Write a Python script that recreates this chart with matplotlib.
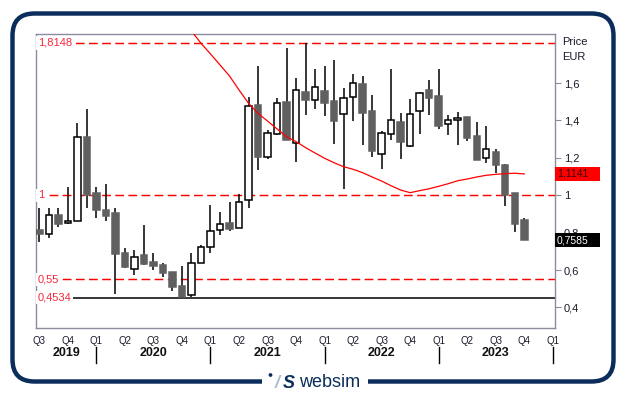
import numpy as np
import matplotlib
matplotlib.use("Agg")
import matplotlib.pyplot as plt
import matplotlib.transforms as mtransforms
from matplotlib.patches import FancyBboxPatch, Rectangle, Circle

plt.rcParams['font.family'] = ['Liberation Sans', 'DejaVu Sans']

# candele mensili, lug 2019 - ott 2023
opens = [0.814, 0.795, 0.895, 0.850, 0.861, 1.312, 1.012, 0.923, 0.904, 0.690,
         0.604, 0.679, 0.642, 0.626, 0.588, 0.513, 0.465, 0.636, 0.722, 0.814,
         0.852, 0.823, 0.973, 1.481, 1.203, 1.328, 1.499, 1.281, 1.552, 1.511,
         1.558, 1.504, 1.433, 1.524, 1.595, 1.451, 1.219, 1.326, 1.392, 1.265,
         1.452, 1.563, 1.531, 1.380, 1.401, 1.419, 1.317, 1.198, 1.230, 1.162,
         1.012, 0.868]
highs = [0.930, 0.934, 0.934, 1.043, 1.388, 1.461, 1.043, 1.059, 0.934, 0.717,
         0.707, 0.841, 0.691, 0.636, 0.588, 0.622, 0.691, 0.733, 0.948, 0.909,
         0.963, 1.009, 1.526, 1.691, 1.349, 1.520, 1.786, 1.627, 1.8148, 1.677,
         1.693, 1.725, 1.575, 1.649, 1.638, 1.538, 1.344, 1.675, 1.440, 1.515,
         1.552, 1.617, 1.675, 1.428, 1.444, 1.419, 1.392, 1.371, 1.248, 1.166,
         1.012, 0.879]
lows = [0.752, 0.773, 0.830, 0.847, 0.861, 0.934, 0.880, 0.864, 0.474, 0.613,
        0.575, 0.629, 0.601, 0.565, 0.488, 0.4534, 0.456, 0.636, 0.693, 0.786,
        0.809, 0.823, 0.934, 1.137, 1.193, 1.322, 1.294, 1.180, 1.429, 1.463,
        1.424, 1.274, 1.032, 1.399, 1.269, 1.206, 1.142, 1.297, 1.196, 1.260,
        1.329, 1.431, 1.356, 1.322, 1.271, 1.289, 1.187, 1.174, 1.118, 0.944,
        0.804, 0.7585]
closes = [0.795, 0.893, 0.848, 0.861, 1.312, 1.003, 0.923, 0.891, 0.688, 0.618,
          0.668, 0.634, 0.624, 0.586, 0.511, 0.455, 0.636, 0.722, 0.807, 0.845,
          0.821, 0.963, 1.478, 1.206, 1.332, 1.492, 1.297, 1.561, 1.510, 1.578,
          1.494, 1.399, 1.519, 1.599, 1.442, 1.239, 1.333, 1.401, 1.287, 1.435,
          1.547, 1.522, 1.372, 1.401, 1.412, 1.308, 1.187, 1.246, 1.160, 1.002,
          0.848, 0.7585]

# media mobile (rossa), dal mese 16 in poi
ma_first = 16
ma_vals = [1.878, 1.813, 1.756, 1.697, 1.638, 1.563, 1.492, 1.438, 1.397, 1.355,
           1.313, 1.287, 1.255, 1.226, 1.198, 1.174, 1.153, 1.139, 1.121, 1.098,
           1.076, 1.051, 1.028, 1.014, 1.025, 1.035, 1.048, 1.062, 1.078, 1.087,
           1.098, 1.107, 1.112, 1.116, 1.118, 1.1141]

quarter_labels = ['Q3', 'Q4', 'Q1', 'Q2', 'Q3', 'Q4', 'Q1', 'Q2', 'Q3', 'Q4',
                  'Q1', 'Q2', 'Q3', 'Q4', 'Q1', 'Q2', 'Q3', 'Q4', 'Q1']
year_labels = ['2019', '2020', '2021', '2022', '2023']

level_vals = [1.8148, 1.0, 0.55, 0.4534]
level_texts = ['1,8148', '1', '0,55', '0,4534']

y_ticks = [0.4, 0.6, 0.8, 1.0, 1.2, 1.4, 1.6]
y_tick_labels = ['0,4', '0,6', '0,8', '1', '1,2', '1,4', '1,6']

last_ma_text = '1,1141'
last_close_text = '0,7585'

navy = '#0b2d5b'
spine_col = '#8c8ca0'
red = '#ff0000'
grey = '#606060'

fig = plt.figure(figsize=(6.29, 3.95), dpi=100)

# cornice arrotondata
bg = fig.add_axes([0, 0, 1, 1], zorder=-1)
bg.set_xlim(0, 629)
bg.set_ylim(395, 0)
bg.axis('off')
bg.add_patch(FancyBboxPatch((12.5, 13.5), 601, 368, boxstyle="round,pad=0,rounding_size=22",
                            fc='white', ec=navy, lw=3.2))
bg.add_patch(Rectangle((262, 374), 106, 14, fc='white', ec='none', zorder=3))
bg.add_patch(Circle((270.5, 375), 1.9, fc=navy, ec='none', zorder=4))
bg.text(275, 383, '/', color='#a9bcd6', fontsize=13, fontweight='bold', style='italic',
        va='center', ha='left', zorder=4)
bg.text(283, 383, 'S', color=navy, fontsize=13, fontweight='bold', style='italic',
        va='center', ha='left', zorder=4)
bg.text(299, 382.5, 'websim', color=navy, fontsize=13, va='center', ha='left', zorder=4)

ax = fig.add_axes([0.0568, 0.1704, 0.826, 0.7428])
x = np.arange(len(opens))
o = np.array(opens)
c = np.array(closes)
up = c >= o

ax.vlines(x, lows, highs, color='black', lw=1.1, zorder=2)
heights = np.maximum(np.abs(c - o), 0.004)
ax.bar(x, heights, bottom=np.minimum(o, c), width=0.68,
       color=np.where(up, 'white', grey), edgecolor=np.where(up, 'black', grey),
       lw=1.1, zorder=3)

ax.plot(np.arange(ma_first, ma_first + len(ma_vals)), ma_vals, color=red, lw=0.9, zorder=4)

tr_left = mtransforms.blended_transform_factory(ax.transAxes, ax.transData)
for v, t in zip(level_vals, level_texts):
    if v == 0.4534:
        ax.axhline(v, color='black', lw=1.1, zorder=1)
    else:
        ax.axhline(v, color=red, lw=1.05, dashes=(6, 3), zorder=1)
    ax.text(0.0045, v, t, transform=tr_left, color='#f5283c', fontsize=8, ha='left', va='center',
            bbox=dict(boxstyle='square,pad=0.15', fc='white', ec='none'), zorder=5)

ax.set_xlim(-0.38, 54.26)
ax.set_ylim(0.292, 1.861)

ax.yaxis.tick_right()
ax.set_yticks(y_ticks)
ax.set_yticklabels(y_tick_labels)
ax.tick_params(axis='y', length=4, color=spine_col, labelsize=8, pad=2, labelcolor='#1a1a2a')

ax.set_xticks(np.arange(0, 3 * len(quarter_labels), 3))
ax.set_xticklabels(quarter_labels)
ax.tick_params(axis='x', length=0, labelsize=7, pad=6, labelcolor='#1a1a2a')

for s in ax.spines.values():
    s.set_color(spine_col)
    s.set_linewidth(1)

# anni e separatori
tr_bot = mtransforms.blended_transform_factory(ax.transData, ax.transAxes)
seps = np.arange(6, 55, 12)
for s in seps:
    ax.plot([s, s], [-0.066, -0.121], color='black', lw=1, transform=tr_bot, clip_on=False)
year_x = [(ax.get_xlim()[0] + seps[0]) / 2] + list(seps[:-1] + 6)
for xp, t in zip(year_x, year_labels):
    ax.text(xp, -0.087, t, transform=tr_bot, fontsize=9, fontweight='bold', ha='center',
            va='center', color='#111111')

ax.text(1.0125, 0.974, 'Price', transform=ax.transAxes, fontsize=8, ha='left', va='center',
        color='#1a1a2a')
ax.text(1.0125, 0.923, 'EUR', transform=ax.transAxes, fontsize=8, ha='left', va='center',
        color='#1a1a2a')

# etichette ultimi valori
box_h = 14 / 187
ax.add_patch(Rectangle((1.0, ma_vals[-1] - box_h / 2), 0.086, box_h, transform=tr_left,
                       fc=red, ec='none', clip_on=False, zorder=6))
ax.text(1.003, ma_vals[-1], last_ma_text, transform=tr_left, fontsize=7.5, color='#3a0000',
        ha='left', va='center', clip_on=False, zorder=7)
ax.add_patch(Rectangle((1.0, closes[-1] - box_h / 2), 0.086, box_h, transform=tr_left,
                       fc='black', ec='none', clip_on=False, zorder=6))
ax.text(1.003, closes[-1], last_close_text, transform=tr_left, fontsize=7.5, color='white',
        ha='left', va='center', clip_on=False, zorder=7)

fig.savefig('out.png', dpi=100)
